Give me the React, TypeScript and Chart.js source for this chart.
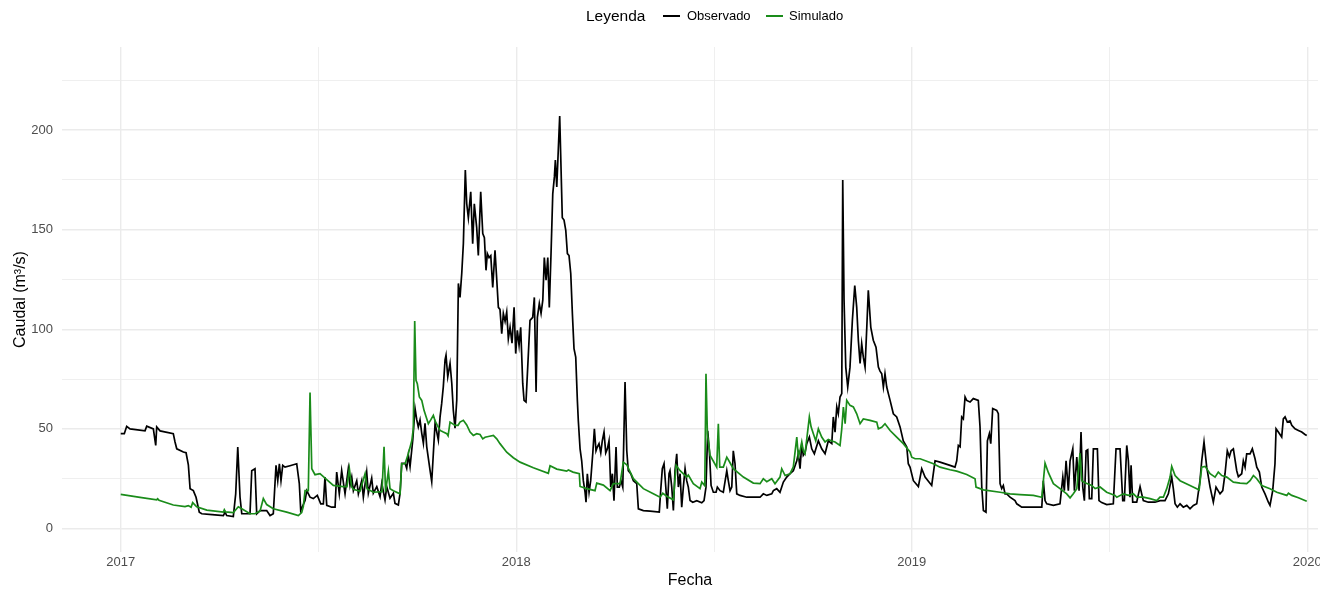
import React, { useEffect, useRef } from "react";
import { Chart, registerables } from "chart.js";

Chart.register(...registerables);

const FONT = '"Liberation Sans", Arial, Helvetica, sans-serif';
const OBS_COLOR = "#000000";
const SIM_COLOR = "#1A8C1A";

// Days since 2017-01-01
const obsDays = [0,3.3,5.5,8.6,22.4,24.0,30.1,32.3,33.2,36.3,48.5,50.1,51.7,57.8,60.3,62.4,64.0,67.0,69.5,72.5,74.8,84.3,94.7,96.3,97.8,103.9,106.1,108.0,110.1,111.7,119.3,120.9,123.9,125.5,128.6,134.7,137.8,140.8,143.3,144.9,146.4,147.9,149.5,151.6,156.2,162.4,164.8,166.1,170.1,171.7,174.7,177.7,181.4,184.6,187.0,188.5,190.1,194.7,197.8,199.3,201.7,203.9,207.0,210.0,211.6,213.2,214.7,217.8,219.3,222.4,223.9,227.0,228.5,231.6,233.1,236.3,239.3,240.9,243.9,245.5,248.5,251.6,253.1,256.2,257.8,259.3,262.4,263.9,265.4,267.0,269.5,271.6,273.2,274.6,276.2,277.8,279.3,280.8,282.4,285.4,287.0,288.5,290.1,293.1,294.7,296.2,297.7,299.3,300.2,301.8,303.9,305.5,306.9,308.5,310.1,311.6,313.1,314.7,316.2,318.0,319.3,320.8,323.0,324.8,326.3,328.5,330.0,332.2,334.1,335.6,337.1,338.3,339.9,341.5,343.3,345.4,347.0,348.5,350.0,351.6,353.1,354.7,356.2,357.7,359.3,361.1,363.0,364.5,366.0,367.6,369.1,371.0,372.2,374.0,376.2,377.7,380.2,381.7,383.3,384.5,386.3,387.9,389.5,390.9,392.5,394.1,395.5,397.1,398.7,400.2,401.1,402.4,403.8,405.1,406.3,407.5,409.1,410.7,412.2,413.7,415.3,416.8,418.3,419.9,421.4,422.3,423.9,425.4,426.9,428.5,429.4,430.6,432.2,433.7,435.6,437.1,438.6,439.8,441.4,443.0,444.4,446.0,447.6,449.1,450.6,452.2,453.7,455.2,457.1,458.3,460.1,461.7,463.3,465.4,467.0,468.4,470.7,473.1,476.2,477.7,482.3,488.5,497.0,498.3,499.8,501.4,503.0,504.4,506.0,506.9,508.5,510.0,511.5,513.1,514.6,516.2,517.7,519.2,520.8,522.3,523.8,525.4,527.9,531.6,536.2,538.3,540.1,541.7,543.2,544.8,546.9,549.4,550.6,553.1,556.1,559.3,560.7,562.3,563.9,565.3,566.9,568.5,571.5,577.7,583.8,590.0,593.0,596.2,600.8,602.3,605.4,608.4,611.5,614.6,617.7,620.7,623.9,625.3,626.9,628.5,629.9,631.5,633.1,635.5,637.7,640.1,643.8,646.9,650.0,653.0,656.2,657.6,659.2,660.8,662.2,663.8,665.4,666.3,667.5,669.1,670.9,673.0,675.2,677.4,679.2,680.7,682.3,683.8,685.3,686.9,688.5,689.9,692.2,694.5,697.0,699.2,700.7,702.3,703.8,705.3,706.9,708.4,710.0,713.0,716.1,719.2,722.2,725.4,726.8,728.4,731.5,736.1,739.2,742.3,748.4,751.5,756.1,765.3,769.9,771.5,773.0,774.6,776.1,777.6,779.2,780.7,783.8,786.8,791.4,793.0,794.6,796.1,798.5,799.8,801.6,802.9,804.7,808.4,809.9,811.5,813.0,814.5,816.1,817.7,820.7,825.3,826.9,831.5,850.0,851.4,853.0,854.6,860.7,866.8,869.4,870.8,872.4,874.5,876.1,878.6,880.1,882.3,884.4,886.2,887.8,889.3,890.9,892.4,893.9,896.1,897.6,901.3,902.8,905.3,909.9,916.0,918.5,922.2,924.7,926.2,928.4,929.9,931.4,932.4,933.9,937.6,940.7,942.2,943.7,948.3,954.5,959.1,963.7,966.8,969.9,971.4,973.0,975.1,977.6,980.6,983.8,986.8,989.9,993.0,996.0,997.6,999.7,1002.2,1005.3,1008.3,1010.8,1014.5,1017.0,1019.1,1021.2,1023.1,1024.7,1026.8,1029.9,1031.4,1034.5,1036.0,1037.6,1039.1,1042.2,1044.3,1046.8,1048.4,1050.8,1053.0,1056.0,1059.1,1060.6,1063.1,1065.2,1066.2,1068.3,1071.4,1072.9,1074.5,1076.6,1079.1,1080.7,1083.7,1086.8,1089.9,1092.9,1094.5];

const obsValues = [47.6,47.6,51.3,50,49,51.4,50,41.7,51,49,47.6,43.4,40,38.4,38,32,20,19,15.7,8.2,7.4,7,6.5,8.2,6.5,6,17.4,40.9,15.7,7.4,7.4,29,30,7.4,9,9,6.5,7.4,31.7,24,32.5,24,31.7,30.8,31.5,32.5,22.5,9,14,19,15.7,15,16.6,12.4,12.4,25.8,11.6,10.7,10.7,28.3,17.4,29,17.4,30,21.6,25.8,19,24,17.4,24,15.7,28.3,17.7,25.2,17.7,21,16,22.7,14.3,21,15.2,17.7,12.6,11.8,17.7,32.7,32.7,30.2,36.9,31,44.4,60.3,54.5,51,54.5,47.8,42.8,52.8,41,29.4,23.5,37.7,52.8,44.4,56,62.8,71.2,84.6,87,76.2,82.9,72.9,59.5,50.3,64.5,123,116,128,143,180,163,156,169,143,163,151,137,169,148,146,129.6,138,136,137,121,139.7,125,111,110,97.8,107.9,104,108.7,95.3,101,93,111,87.8,99.5,92,101,72.7,64.3,63.5,87.8,104.5,106,116,68.5,106,113,108,114.6,136,124.6,136,111,138,168,176.5,185,171.5,190,207,181.6,156,154.8,149.7,138,137,128,107.9,90.3,86,64.3,54,40,34,24,18.2,13.2,27.5,18.2,24,37.5,50,39,40.9,42.6,38,44,48.4,38,40,44,20.8,27.5,14,40.9,20.8,20.8,24,20.8,73.5,39,29,27.5,24,22.5,9.9,9,8.7,8.2,19,30,32.5,20.8,9.9,27.5,29,20.8,9,29,37.5,20.8,27.5,10.7,20.8,30,24,20.8,14,13.2,14,12.9,14,20.8,49,39,21.6,18.2,18.2,20.8,19,18.2,29,24,19,20.8,39,32.5,17.4,16.6,15.7,15.7,15.7,17.4,16.6,17.4,19,20,18.2,23.3,25.8,27.5,29,34,37.5,30,42.6,36.7,38,42.6,45.9,40,37.5,44,40,37.5,44,42.6,56,48.4,61,57.6,66,67.7,174.9,115,81,71,81,104.5,122,111,94.5,82.8,92.8,86,81,101,119.6,101,94.5,91,81,79,77.7,71,77.7,71,67.7,64.3,57.6,56,51,44,40.9,32.5,30.8,24,21,30,25.8,21.6,34,33.3,31.7,30.8,34,41.7,41,56,55,66,64.3,63.5,65.2,64.3,51,20.8,9,8.2,44,47.6,42.6,60.2,59.3,57.6,22.5,20,21.6,17.4,17.4,15.7,14,12.4,10.7,10.7,24,14,12.4,11.6,12.4,25.8,19,34,19,34,40,19,35.8,19,48.4,20.8,14,39,39.5,15,15,40,40,14,13,12,12.4,40,40,14,14,41.7,34,15.7,31.7,13.2,13.2,21,17.4,14,13.2,13.2,14,14,17.4,25.8,20,12.4,10.7,12.4,10.7,11.6,9.9,11.6,12.4,24,34,43.4,30.8,20.8,13.2,20.8,17.4,19,27.5,39,36,39,40,29,26,27.5,34,30.8,37.5,37.5,40,35,30.8,28.3,20.8,17.4,13.2,11.6,19,32.5,50,48.4,45.9,55,56,53.4,54,51.8,50,49.2,48.4,47.2,46.7];

const simDays = [0,17.8,33.2,34.0,35.3,48.5,59.3,62.4,64.9,66.4,70.1,79.4,94.7,95.6,96.7,103.9,108.5,111.7,119.3,123.9,128.6,131.6,134.7,140.8,153.2,163.9,167.0,168.5,170.1,173.1,174.7,176.3,179.3,183.9,190.1,196.2,205.4,208.8,211.0,213.0,214.7,220.8,225.5,227.3,233.1,241.1,243.0,244.4,247.0,248.5,251.6,257.8,259.3,262.4,265.4,268.6,270.0,271.3,272.5,273.7,275.6,277.8,279.9,282.4,283.9,286.1,288.5,290.1,292.2,294.7,297.7,300.9,302.1,303.9,306.4,308.5,311.3,313.1,316.2,319.3,322.4,325.4,328.5,331.6,334.1,336.2,339.3,343.9,347.0,350.0,356.2,362.3,368.5,380.8,394.6,396.2,402.4,411.6,413.1,417.4,423.2,423.9,430.1,437.7,439.3,445.4,451.6,454.6,460.8,463.8,467.0,473.1,482.3,491.5,497.7,500.2,503.9,510.0,512.5,516.2,522.3,523.8,528.4,534.6,536.2,539.0,540.1,541.4,543.9,550.0,551.5,552.8,556.1,559.3,562.3,565.3,574.6,583.8,590.0,593.0,596.2,600.8,603.8,608.4,610.0,613.1,617.7,620.7,623.9,625.3,626.9,628.5,629.9,631.5,635.5,637.1,639.2,641.4,643.8,646.9,650.0,653.0,656.2,659.2,663.8,665.4,666.9,668.5,670.0,673.0,676.1,679.2,682.3,685.3,691.5,697.7,699.2,702.3,705.3,710.0,716.1,722.2,728.4,730.0,733.1,737.7,750.0,756.1,765.3,771.5,780.7,788.4,789.3,796.1,811.5,820.7,829.9,842.2,850.0,853.0,856.1,860.7,866.8,873.0,876.1,879.1,882.3,885.3,886.9,889.9,896.1,899.2,903.8,909.9,917.6,919.2,925.3,929.9,934.5,937.6,943.7,949.9,956.1,959.1,962.2,965.3,968.4,969.9,973.0,977.6,986.8,993.0,995.2,997.6,1000.7,1005.3,1009.9,1012.9,1016.1,1020.7,1026.8,1033.0,1039.1,1042.2,1045.3,1048.4,1053.0,1060.6,1066.9,1076.1,1077.6,1080.7,1086.8,1094.5];

const simValues = [17.1,15.6,14.4,14.9,14.2,11.8,11,11.5,10.7,13,10.9,9.2,8.2,9.4,8.3,8,10.9,9.9,7.4,7.4,8.8,15,12,9.9,8.2,6.5,8,11,19,19,68.2,30,27,27.5,24.5,21.6,21,21,30,21,19.7,18.7,27.5,20,18.2,18.5,41,18.5,28.8,20,19,17.4,32.5,32.5,37.5,44,50,104.2,74.4,72.7,66,64.3,59.3,55.1,52.6,54.5,56.8,54,51.8,49.2,48.4,47.6,46.5,53.4,52.5,51.8,51.8,53.4,54.3,52,48.4,46.7,47.6,47.2,45,45.8,46.2,46.7,45,42.6,38.3,35.5,33.3,30.5,27.7,31.5,29.8,28.8,29.4,28.3,27.5,21.1,20,19,22.8,21.8,19,22.5,22.5,33.3,32,25,20,17.4,15.7,17.7,16.2,14.4,31.7,29,25.8,26.8,22.5,20,23.3,21.5,77.7,47.6,36.7,30.8,52.6,30.8,30.8,35.8,33,30,25.8,22.8,22.5,25,23.5,25,22.5,25.8,30,26.6,27.5,31,45.9,36,39,43.4,39,37.5,56,51,47.6,44,50,45.9,43.4,44.7,43.9,43.4,41.7,50,61,52.6,64.3,61.8,61,57.6,52.6,55,54.3,53.4,50,50.8,52.6,49.2,45.9,42.6,38.4,35.8,35,35,32.5,30.8,29.5,28.8,27.1,25,20.8,19.4,18.2,17.4,17,16.6,15.7,32.8,28,22.5,20,17.4,15.4,17.4,20,37.8,24,23,21.6,20,20.8,18.2,16.6,15.7,17.4,16.6,17.4,15.7,15.7,15,14,15.7,15.7,20,25.8,31.2,26.6,24,21.6,20,19.4,30.8,31.2,27.5,25.8,28.3,26.6,25.8,23.3,22.8,22.5,24,26.6,25,21.6,20,18.2,16.6,17.7,16.6,15.4,13.7];

const xTickDays = [0, 182.5, 365, 547.5, 730, 912.5, 1095];
const xTickLabels = ["2017", "", "2018", "", "2019", "", "2020"];
const yTickValues = [0, 25, 50, 75, 100, 125, 150, 175, 200, 225];
const yTickLabels = ["0", "", "50", "", "100", "", "150", "", "200", ""];

const X_MIN = -54.2;
const X_MAX = 1104.9;
const Y_MIN = -11.8;
const Y_MAX = 241.7;

function toPoints(days: number[], vals: number[]) {
  const n = Math.min(days.length, vals.length);
  const out: { x: number; y: number }[] = [];
  for (let i = 0; i < n; i++) out.push({ x: days[i], y: vals[i] });
  return out;
}

export default function App() {
  const ref = useRef<HTMLCanvasElement>(null);

  useEffect(() => {
    const prev = document.body.style.margin;
    document.body.style.margin = "0";
    const canvas = ref.current;
    if (!canvas) return;
    const chart = new Chart(canvas, {
      type: "line",
      data: {
        datasets: [
          {
            label: "Simulado",
            data: toPoints(simDays, simValues),
            borderColor: SIM_COLOR,
            backgroundColor: SIM_COLOR,
            borderWidth: 1.7,
            pointRadius: 0,
            tension: 0,
            order: 0,
          },
          {
            label: "Observado",
            data: toPoints(obsDays, obsValues),
            borderColor: OBS_COLOR,
            backgroundColor: OBS_COLOR,
            borderWidth: 1.7,
            pointRadius: 0,
            tension: 0,
            order: 1,
          },
        ],
      },
      options: {
        animation: false,
        responsive: true,
        maintainAspectRatio: false,
        events: [],
        layout: { padding: { top: 47, right: 2, left: 0, bottom: 0 } },
        plugins: { legend: { display: false }, tooltip: { enabled: false }, title: { display: false } },
        scales: {
          x: {
            type: "linear",
            min: X_MIN,
            max: X_MAX,
            border: { display: false },
            grid: {
              color: "#EBEBEB",
              lineWidth: (c: any) => (xTickLabels[c.index] ? 1.4 : 0.8),
              drawTicks: false,
            },
            ticks: {
              autoSkip: false,
              maxRotation: 0,
              minRotation: 0,
              padding: 3,
              color: "#4D4D4D",
              font: { size: 13, family: FONT },
              callback: (_v: any, i: number) => xTickLabels[i] ?? "",
            },
            afterBuildTicks: (s: any) => {
              s.ticks = xTickDays.map((v) => ({ value: v }));
            },
            afterFit: (s: any) => {
              s.height = 40;
              s.paddingLeft = 0;
              s.paddingRight = 0;
            },
            title: {
              display: true,
              text: "Fecha",
              color: "#000000",
              font: { size: 16, family: FONT },
              padding: { top: 0, bottom: 1.5 },
            },
          },
          y: {
            type: "linear",
            min: Y_MIN,
            max: Y_MAX,
            border: { display: false },
            grid: {
              color: "#EBEBEB",
              lineWidth: (c: any) => (yTickLabels[c.index] ? 1.4 : 0.8),
              drawTicks: false,
            },
            ticks: {
              autoSkip: false,
              padding: 9,
              color: "#4D4D4D",
              font: { size: 13, family: FONT },
              callback: (_v: any, i: number) => yTickLabels[i] ?? "",
            },
            afterBuildTicks: (s: any) => {
              s.ticks = yTickValues.map((v) => ({ value: v }));
            },
            afterFit: (s: any) => {
              s.width = 62;
              s.paddingTop = 0;
              s.paddingBottom = 0;
            },
            title: {
              display: true,
              text: "Caudal (m³/s)",
              color: "#000000",
              font: { size: 16, family: FONT },
              padding: { top: 10.5, bottom: 0 },
            },
          },
        },
      } as any,
    });
    return () => {
      chart.destroy();
      document.body.style.margin = prev;
    };
  }, []);

  const textStyle: React.CSSProperties = {
    position: "absolute",
    top: 6,
    lineHeight: "20px",
    fontFamily: FONT,
    whiteSpace: "nowrap",
  };
  const swatch = (left: number, color: string): React.CSSProperties => ({
    position: "absolute",
    left,
    top: 15,
    width: 17,
    height: 2,
    background: color,
  });

  return (
    <div style={{ position: "relative", width: 1333, height: 592, background: "#ffffff", overflow: "hidden" }}>
      <div style={{ position: "absolute", left: 0, top: 0, width: 1320, height: 592 }}>
        <canvas ref={ref} />
      </div>
      <span style={{ ...textStyle, left: 586, fontSize: 15.5, color: "#000" }}>Leyenda</span>
      <div style={swatch(663, OBS_COLOR)} />
      <span style={{ ...textStyle, left: 687, fontSize: 13, color: "#000" }}>Observado</span>
      <div style={swatch(766, SIM_COLOR)} />
      <span style={{ ...textStyle, left: 789, fontSize: 13, color: "#000" }}>Simulado</span>
    </div>
  );
}
